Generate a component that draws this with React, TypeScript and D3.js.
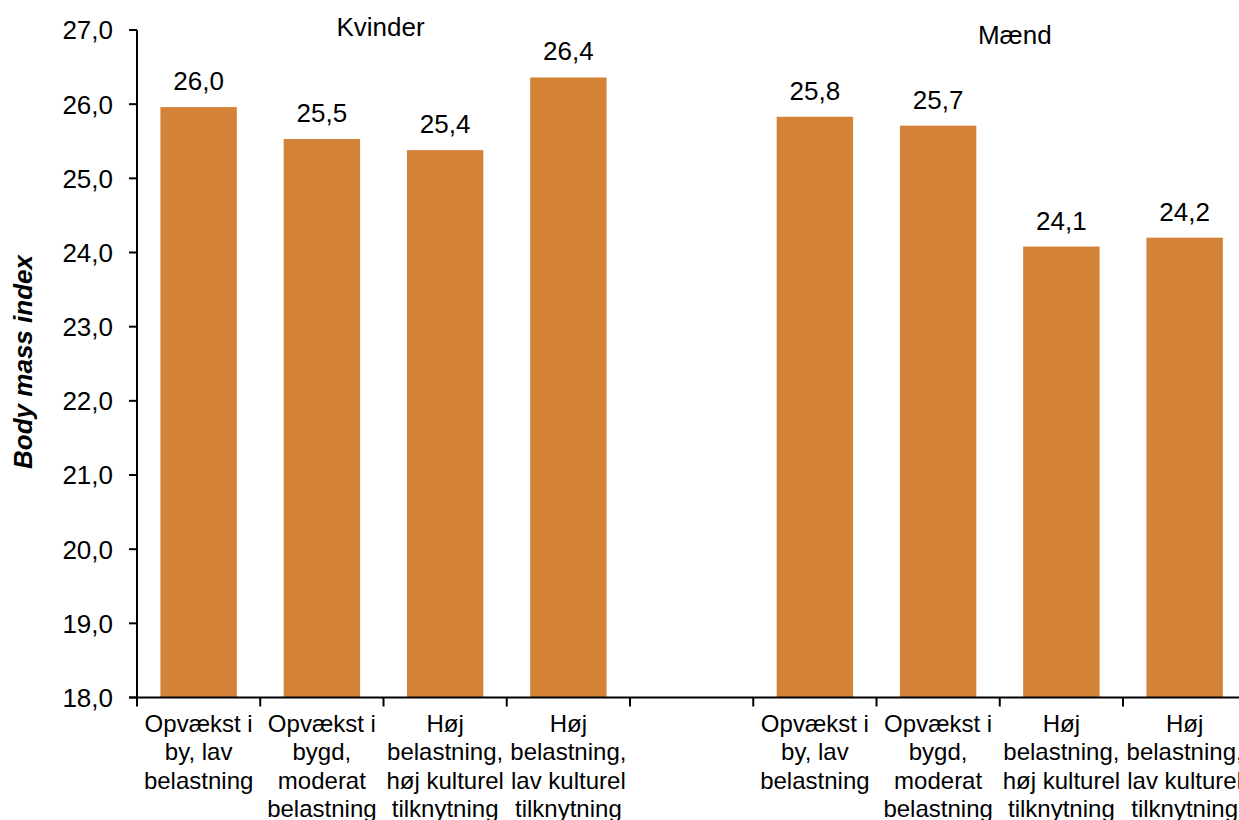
import React from "react";
import * as d3 from "d3";

const categories = [
  ["Opvækst i", "by, lav", "belastning"],
  ["Opvækst i", "bygd,", "moderat", "belastning"],
  ["Høj", "belastning,", "høj kulturel", "tilknytning"],
  ["Høj", "belastning,", "lav kulturel", "tilknytning"],
];
const groupNames = ["Kvinder", "Mænd"];
const kvinderValues = [25.96, 25.53, 25.38, 26.36];
const maendValues = [25.83, 25.71, 24.08, 24.2];
const yTicks = [18, 19, 20, 21, 22, 23, 24, 25, 26, 27];
const yTitle = "Body mass index";

const W = 1239;
const H = 820;
const FONT = "'Liberation Sans', Arial, sans-serif";
const BAR = "#D38237";

export default function App() {
  const left = 137;
  const step = 123.25;
  // slots: 4 Kvinder, 1 empty, 4 Mænd
  const slots: { key: string; group: number; cat: number; value: number | null }[] = [];
  kvinderValues.forEach((v, i) => slots.push({ key: `k${i}`, group: 0, cat: i, value: v }));
  slots.push({ key: "gap", group: -1, cat: -1, value: null });
  maendValues.forEach((v, i) => slots.push({ key: `m${i}`, group: 1, cat: i, value: v }));

  const pad = 0.38;
  const x = d3
    .scaleBand<string>()
    .domain(slots.map((s) => s.key))
    .range([left, left + step * slots.length])
    .paddingInner(pad)
    .paddingOuter(pad / 2);
  const st = x.step();
  const bw = x.bandwidth();

  const y = d3.scaleLinear().domain([18, 27]).range([697.5, 30]);
  const fmt = (v: number) => v.toFixed(1).replace(".", ",");

  const boundaries = d3.range(slots.length + 1).map((i) => left + i * st);

  const groupCenter = (g: number) => {
    const keys = slots.filter((s) => s.group === g).map((s) => s.key);
    const a = x(keys[0])! - (st * pad) / 2;
    const b = x(keys[keys.length - 1])! + bw + (st * pad) / 2;
    return (a + b) / 2;
  };
  const groupLabelOffset = [{ dx: -3, y: 36 }, { dx: 15, y: 44 }];

  return (
    <svg
      width={W}
      height={H}
      style={{ position: "absolute", left: 0, top: 0, background: "#fff" }}
      fontFamily={FONT}
    >
      {/* bars */}
      {slots.map((s) =>
        s.value == null ? null : (
          <g key={s.key}>
            <rect
              x={x(s.key)!}
              y={y(s.value)}
              width={bw}
              height={y(18) - y(s.value)}
              fill={BAR}
            />
            <text
              x={x(s.key)! + bw / 2}
              y={y(s.value) - 17}
              textAnchor="middle"
              fontSize={26}
              fill="#000"
            >
              {fmt(s.value)}
            </text>
          </g>
        )
      )}

      {/* y axis */}
      <line x1={left} x2={left} y1={y(27)} y2={y(18)} stroke="#000" strokeWidth={2} />
      {yTicks.map((t) => (
        <g key={t}>
          <line x1={left - 8} x2={left} y1={y(t)} y2={y(t)} stroke="#000" strokeWidth={2} />
          <text
            x={113}
            y={y(t)}
            dy="0.36em"
            textAnchor="end"
            fontSize={26}
            fill="#000"
          >
            {fmt(t)}
          </text>
        </g>
      ))}

      {/* x axis */}
      <line x1={left - 8} x2={W} y1={y(18)} y2={y(18)} stroke="#000" strokeWidth={2} />
      {boundaries.map((bx, i) => (
        <line key={i} x1={bx} x2={bx} y1={y(18)} y2={y(18) + 9} stroke="#000" strokeWidth={2} />
      ))}
      {slots.map((s) =>
        s.cat < 0 ? null : (
          <text
            key={`lbl-${s.key}`}
            x={x(s.key)! + bw / 2}
            y={732}
            textAnchor="middle"
            fontSize={24}
            fill="#000"
          >
            {categories[s.cat].map((line, j) => (
              <tspan key={j} x={x(s.key)! + bw / 2} dy={j === 0 ? 0 : 28.3}>
                {line}
              </tspan>
            ))}
          </text>
        )
      )}

      {/* group labels */}
      {groupNames.map((g, i) => (
        <text
          key={g}
          x={groupCenter(i) + groupLabelOffset[i].dx}
          y={groupLabelOffset[i].y}
          textAnchor="middle"
          fontSize={26}
          fill="#000"
        >
          {g}
        </text>
      ))}

      {/* y title */}
      <text
        transform={`translate(32, ${362}) rotate(-90)`}
        textAnchor="middle"
        fontSize={26}
        fontWeight="bold"
        fontStyle="italic"
        fill="#000"
      >
        {yTitle}
      </text>
    </svg>
  );
}
